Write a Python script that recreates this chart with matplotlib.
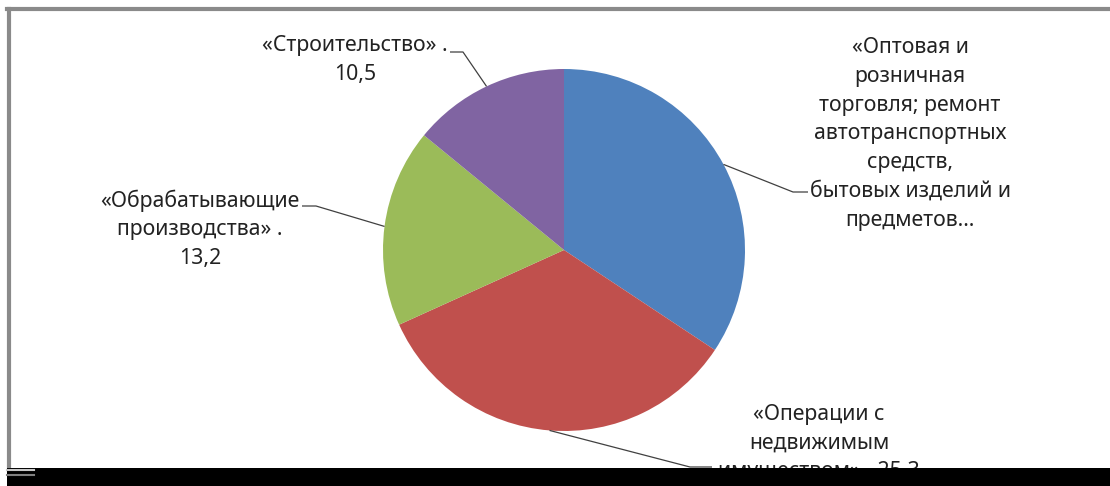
import numpy as np
import matplotlib
matplotlib.use("Agg")
import matplotlib.pyplot as plt
from matplotlib.patches import Rectangle

plt.rcParams['font.family'] = ['Noto Sans', 'DejaVu Sans']

# slice data (clockwise from 12 o'clock)
values = [25.6, 25.3, 13.2, 10.5]
colors = ['#4F81BD', '#C0504D', '#9BBB59', '#8064A2']
labels = [
    "«Оптовая и\nрозничная\nторговля; ремонт\nавтотранспортных\nсредств,\nбытовых изделий и\nпредметов…",
    "«Операции с\nнедвижимым\nимуществом» . 25,3",
    "«Обрабатывающие\nпроизводства» .\n13,2",
    "«Строительство» .\n10,5",
]

W, H = 1110, 486
fig = plt.figure(figsize=(W / 100, H / 100), dpi=100)
ax = fig.add_axes([0, 0, 1, 1])


def Y(y):
    # image row -> data y
    return H - y


cx, cy, r = 564, Y(250), 181
wedges, _ = ax.pie(values, colors=colors, startangle=90, counterclock=False,
                   center=(cx, cy), radius=r, frame=True,
                   wedgeprops=dict(linewidth=0))
ax.set_xlim(0, W)
ax.set_ylim(0, H)
ax.set_aspect('equal')
ax.axis('off')

# label layout: text centre, elbow point, end of short horizontal tick
label_pos = [
    dict(xy=(910, 134), elbow=(793, 192), tick=(808, 192)),
    dict(xy=(819, 443), elbow=(690, 467), tick=(712, 467)),
    dict(xy=(200, 229), elbow=(316, 206), tick=(302, 206)),
    dict(xy=(355, 60), elbow=(463, 52), tick=(450, 52)),
]

for w, lab, pos in zip(wedges, labels, label_pos):
    mid = np.deg2rad((w.theta1 + w.theta2) / 2)
    ex, ey = cx + r * np.cos(mid), cy + r * np.sin(mid)
    bx, by = pos['elbow']
    tx, ty = pos['tick']
    ax.plot([ex, bx, tx], [ey, Y(by), Y(ty)], color='#404040', lw=0.9,
            solid_capstyle='butt', zorder=3)
    ax.text(pos['xy'][0], Y(pos['xy'][1]), lab, ha='center', va='center',
            multialignment='center', fontsize=15.3, color='#222222',
            linespacing=1.48, zorder=4)

# chart frame (left and top visible)
ax.plot([8.5, 8.5], [Y(9), Y(470)], color='#8a8a8a', lw=3, zorder=5)
ax.plot([7, W], [Y(9), Y(9)], color='#8a8a8a', lw=3, zorder=5)

# black band at the bottom
ax.add_patch(Rectangle((7, 0), W - 7, Y(468), facecolor='black',
                       edgecolor='none', zorder=6))
ax.plot([7, 34], [Y(469.5), Y(469.5)], color='#c8c8c8', lw=1.5, zorder=7)
ax.plot([7, 34], [Y(475), Y(475)], color='#808080', lw=1.5, zorder=7)

fig.savefig("out.png", dpi=100, facecolor='white')
